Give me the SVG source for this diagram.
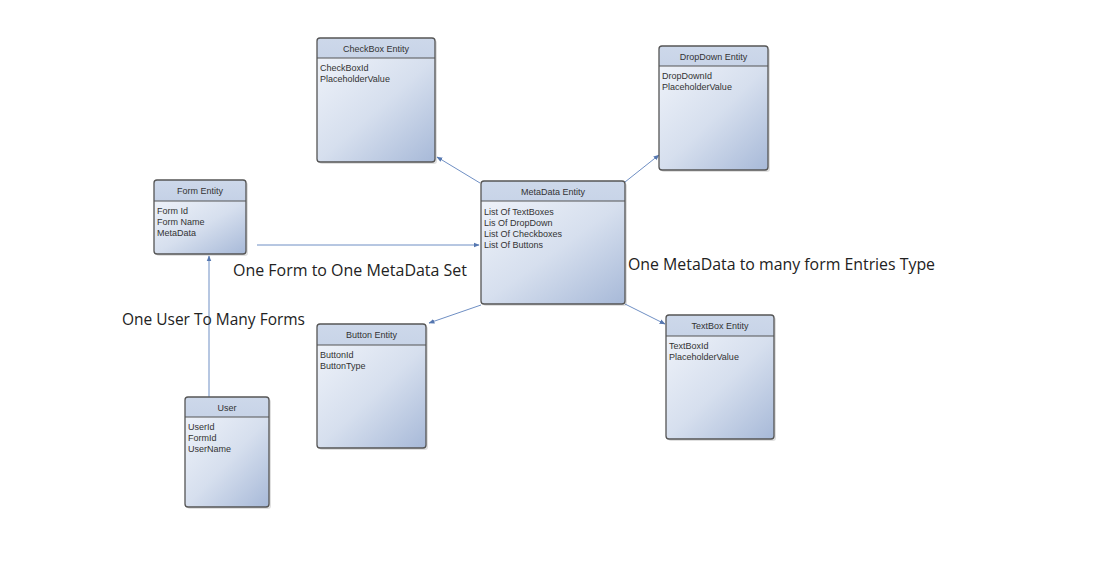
<svg xmlns="http://www.w3.org/2000/svg" width="1095" height="575" viewBox="0 0 1095 575">
<style>
.hdr{fill:url(#hg);}
.body{fill:url(#bg);}
.frame{fill:none;stroke:#555;stroke-width:1.3;}
.sep{stroke:#555;stroke-width:1;}
.shadow{fill:#000;opacity:0.12;}
.title{font-family:"Liberation Sans",Arial,sans-serif;font-size:9px;fill:#333;text-anchor:middle;}
.row{font-family:"Liberation Sans",Arial,sans-serif;font-size:9px;fill:#333;}
.lbl{font-family:"Open Sans","Liberation Sans",sans-serif;font-size:16px;fill:#222;}
.conn{stroke:#6f8fc4;stroke-width:1;fill:none;marker-end:url(#arr);}
</style>
<defs>
<linearGradient id="hg" x1="0" y1="0" x2="0" y2="1">
<stop offset="0" stop-color="#cdd8ea"/>
<stop offset="1" stop-color="#aebfdc"/>
</linearGradient>
<linearGradient id="bg" x1="0" y1="0" x2="1" y2="1">
<stop offset="0" stop-color="#eef2f9"/>
<stop offset="0.5" stop-color="#d6dfee"/>
<stop offset="1" stop-color="#a7b9d8"/>
</linearGradient>
<marker id="arr" viewBox="0 0 10 10" refX="9" refY="5" markerWidth="6" markerHeight="6" orient="auto" markerUnits="userSpaceOnUse">
<path d="M0,1 L10,5 L0,9 Z" fill="#5577b0"/>
</marker>
</defs>
<rect width="1095" height="575" fill="#fff"/>

<g id="connectors">
<path class="conn" d="M209,397 L209,256"/>
<path class="conn" d="M257,245 L479,245"/>
<path class="conn" d="M480,183 L437,157"/>
<path class="conn" d="M625,182 L659,155"/>
<path class="conn" d="M625,304 L665,324"/>
<path class="conn" d="M481,305 L429,323"/>
</g>

<g id="checkbox-entity">
<rect class="shadow" x="319" y="40" width="118" height="124" rx="3"/>
<rect class="hdr" x="317" y="38" width="118" height="124" rx="3"/>
<path class="body" d="M317,58 H435 V159 Q435,162 432,162 H320 Q317,162 317,159 Z"/>
<line class="sep" x1="317" y1="58" x2="435" y2="58"/>
<rect class="frame" x="317" y="38" width="118" height="124" rx="3"/>
<text class="title" x="376" y="52">CheckBox Entity</text>
<text class="row" x="320" y="71">CheckBoxId</text>
<text class="row" x="320" y="82">PlaceholderValue</text>
</g>

<g id="dropdown-entity">
<rect class="shadow" x="661" y="48" width="109" height="124" rx="3"/>
<rect class="hdr" x="659" y="46" width="109" height="124" rx="3"/>
<path class="body" d="M659,66 H768 V167 Q768,170 765,170 H662 Q659,170 659,167 Z"/>
<line class="sep" x1="659" y1="66" x2="768" y2="66"/>
<rect class="frame" x="659" y="46" width="109" height="124" rx="3"/>
<text class="title" x="713.5" y="60">DropDown Entity</text>
<text class="row" x="662" y="79">DropDownId</text>
<text class="row" x="662" y="90">PlaceholderValue</text>
</g>

<g id="metadata-entity">
<rect class="shadow" x="483" y="183" width="144" height="123" rx="3"/>
<rect class="hdr" x="481" y="181" width="144" height="123" rx="3"/>
<path class="body" d="M481,201 H625 V301 Q625,304 622,304 H484 Q481,304 481,301 Z"/>
<line class="sep" x1="481" y1="201" x2="625" y2="201"/>
<rect class="frame" x="481" y="181" width="144" height="123" rx="3"/>
<text class="title" x="553" y="195">MetaData Entity</text>
<text class="row" x="484" y="215">List Of TextBoxes</text>
<text class="row" x="484" y="226">Lis Of DropDown</text>
<text class="row" x="484" y="237">List Of Checkboxes</text>
<text class="row" x="484" y="248">List Of Buttons</text>
</g>

<g id="form-entity">
<rect class="shadow" x="156" y="182" width="92" height="74" rx="3"/>
<rect class="hdr" x="154" y="180" width="92" height="74" rx="3"/>
<path class="body" d="M154,201 H246 V251 Q246,254 243,254 H157 Q154,254 154,251 Z"/>
<line class="sep" x1="154" y1="201" x2="246" y2="201"/>
<rect class="frame" x="154" y="180" width="92" height="74" rx="3"/>
<text class="title" x="200" y="194">Form Entity</text>
<text class="row" x="157" y="214">Form Id</text>
<text class="row" x="157" y="225">Form Name</text>
<text class="row" x="157" y="236">MetaData</text>
</g>

<g id="user">
<rect class="shadow" x="187" y="399" width="84" height="110" rx="3"/>
<rect class="hdr" x="185" y="397" width="84" height="110" rx="3"/>
<path class="body" d="M185,417 H269 V504 Q269,507 266,507 H188 Q185,507 185,504 Z"/>
<line class="sep" x1="185" y1="417" x2="269" y2="417"/>
<rect class="frame" x="185" y="397" width="84" height="110" rx="3"/>
<text class="title" x="227" y="411">User</text>
<text class="row" x="188" y="430">UserId</text>
<text class="row" x="188" y="441">FormId</text>
<text class="row" x="188" y="452">UserName</text>
</g>

<g id="button-entity">
<rect class="shadow" x="319" y="326" width="109" height="124" rx="3"/>
<rect class="hdr" x="317" y="324" width="109" height="124" rx="3"/>
<path class="body" d="M317,345 H426 V445 Q426,448 423,448 H320 Q317,448 317,445 Z"/>
<line class="sep" x1="317" y1="345" x2="426" y2="345"/>
<rect class="frame" x="317" y="324" width="109" height="124" rx="3"/>
<text class="title" x="371.5" y="338">Button Entity</text>
<text class="row" x="320" y="358">ButtonId</text>
<text class="row" x="320" y="369">ButtonType</text>
</g>

<g id="textbox-entity">
<rect class="shadow" x="668" y="317" width="108" height="124" rx="3"/>
<rect class="hdr" x="666" y="315" width="108" height="124" rx="3"/>
<path class="body" d="M666,336 H774 V436 Q774,439 771,439 H669 Q666,439 666,436 Z"/>
<line class="sep" x1="666" y1="336" x2="774" y2="336"/>
<rect class="frame" x="666" y="315" width="108" height="124" rx="3"/>
<text class="title" x="720" y="329">TextBox Entity</text>
<text class="row" x="669" y="349">TextBoxId</text>
<text class="row" x="669" y="360">PlaceholderValue</text>
</g>

<g id="labels">
<text class="lbl" x="233" y="276" textLength="234" lengthAdjust="spacingAndGlyphs">One Form to One MetaData Set</text>
<text class="lbl" x="122" y="325" textLength="183" lengthAdjust="spacingAndGlyphs">One User To Many Forms</text>
<text class="lbl" x="628" y="270" textLength="307" lengthAdjust="spacingAndGlyphs">One MetaData to many form Entries Type</text>
</g>
</svg>
